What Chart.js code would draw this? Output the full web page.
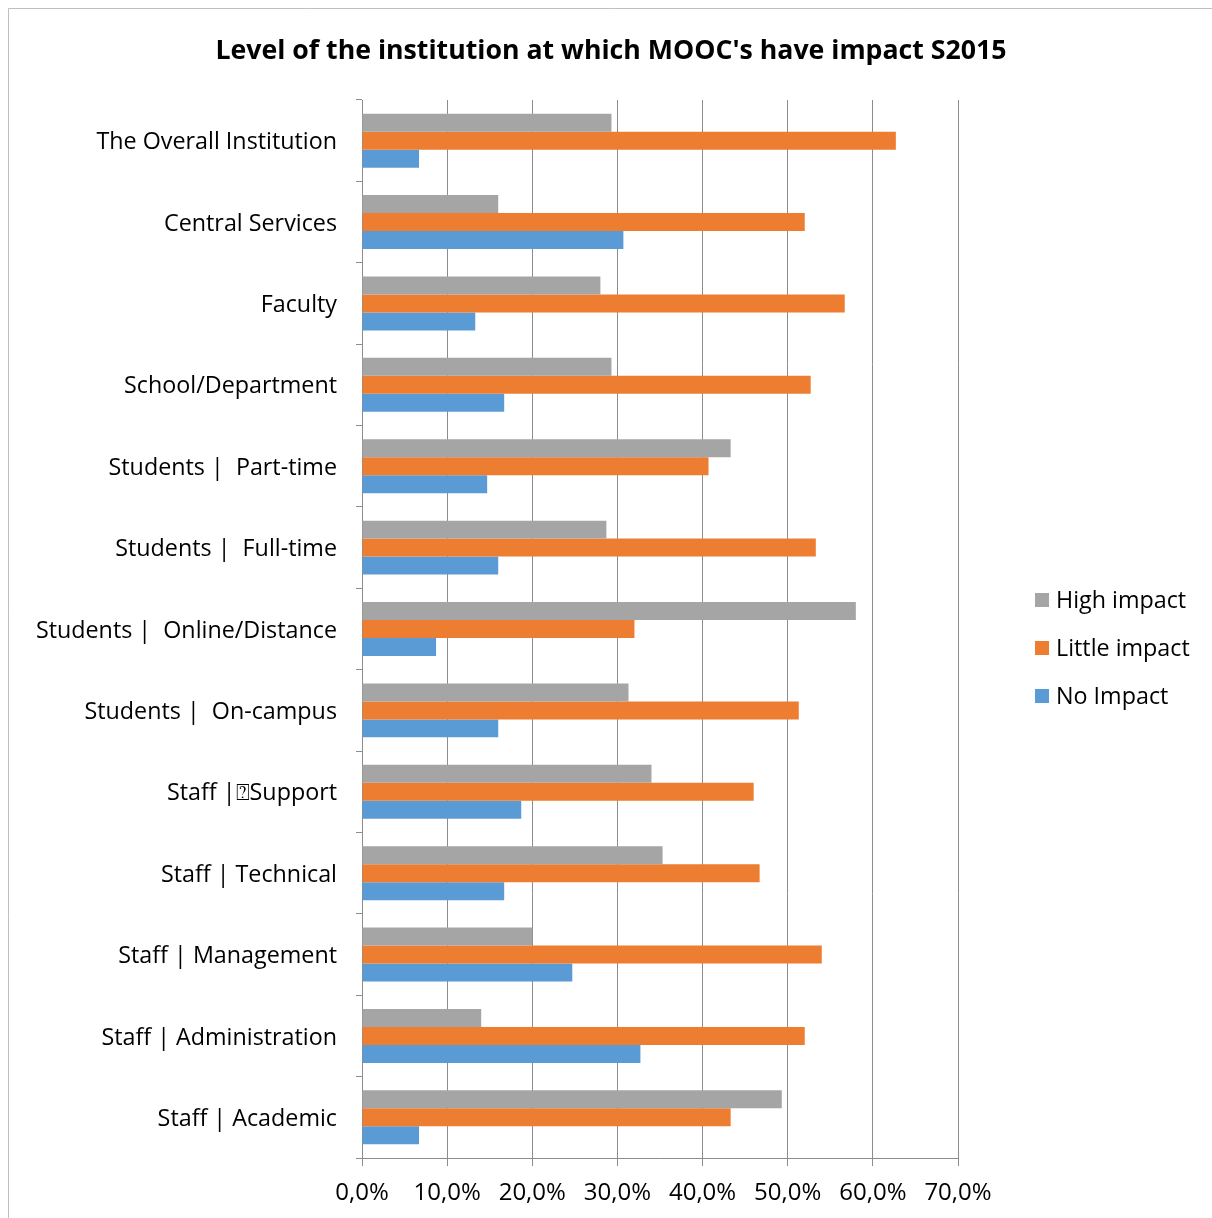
<!DOCTYPE html>
<html>
<head>
<meta charset="utf-8">
<script src="https://cdn.jsdelivr.net/npm/chart.js@4.4.1/dist/chart.umd.min.js"></script>
<style>
  html, body { margin: 0; padding: 0; background: #fff; }
  #wrap { width: 1212px; height: 1218px; position: relative; }
</style>
</head>
<body>
<div id="wrap"><canvas id="c" width="1212" height="1218"></canvas></div>
<script>
// Survey levels (top to bottom)
const categories = [
  'The Overall Institution',
  'Central Services',
  'Faculty',
  'School/Department',
  'Students |  Part-time',
  'Students |  Full-time',
  'Students |  Online/Distance',
  'Students |  On-campus',
  'Staff |\u2370Support',
  'Staff | Technical',
  'Staff | Management',
  'Staff | Administration',
  'Staff | Academic'
];

// Share of respondents, in percent
const highImpact   = [29.3, 16.0, 28.0, 29.3, 43.3, 28.7, 58.0, 31.3, 34.0, 35.3, 20.0, 14.0, 49.3];
const littleImpact = [62.7, 52.0, 56.7, 52.7, 40.7, 53.3, 32.0, 51.3, 46.0, 46.7, 54.0, 52.0, 43.3];
const noImpact     = [ 6.7, 30.7, 13.3, 16.7, 14.7, 16.0,  8.7, 16.0, 18.7, 16.7, 24.7, 32.7,  6.7];

const seriesNames = ['High impact', 'Little impact', 'No Impact'];
const seriesColors = ['#a5a5a5', '#ed7d31', '#5b9bd5'];

const chartTitle = "Level of the institution at which MOOC's have impact S2015";

const FONT = '"Open Sans", "Noto Sans", sans-serif';

// White background, thin frame and the centred title
const framePlugin = {
  id: 'frame',
  beforeDraw(chart) {
    const ctx = chart.ctx;
    ctx.save();
    ctx.fillStyle = '#ffffff';
    ctx.fillRect(0, 0, chart.width, chart.height);
    ctx.strokeStyle = '#bfbfbf';
    ctx.lineWidth = 1;
    ctx.beginPath();
    ctx.moveTo(8.5, chart.height);
    ctx.lineTo(8.5, 8.5);
    ctx.lineTo(chart.width, 8.5);
    ctx.stroke();
    ctx.font = 'bold 26.7px ' + FONT;
    ctx.fillStyle = '#000000';
    ctx.textAlign = 'center';
    ctx.textBaseline = 'alphabetic';
    ctx.fillText(chartTitle, 611, 59);
    ctx.restore();
  }
};

// Vertical legend to the right of the plot
const sideLegend = {
  id: 'sideLegend',
  afterDraw(chart) {
    const ctx = chart.ctx;
    const x = chart.chartArea.right + 77;
    const y0 = 600, step = 48, box = 14;
    ctx.save();
    ctx.font = '23.3px ' + FONT;
    ctx.textBaseline = 'middle';
    ctx.textAlign = 'left';
    chart.data.datasets.forEach((ds, i) => {
      const y = y0 + i * step;
      ctx.fillStyle = ds.backgroundColor;
      ctx.fillRect(x, y - box / 2, box, box);
      ctx.fillStyle = '#000000';
      ctx.fillText(ds.label, x + box + 7, y + 1);
    });
    ctx.restore();
  }
};

const values = [highImpact, littleImpact, noImpact];

new Chart(document.getElementById('c'), {
  type: 'bar',
  data: {
    labels: categories,
    datasets: values.map((v, i) => ({
      label: seriesNames[i],
      data: v,
      backgroundColor: seriesColors[i],
      borderWidth: 0,
      barPercentage: 1.0,
      categoryPercentage: 0.663
    }))
  },
  options: {
    indexAxis: 'y',
    responsive: false,
    animation: false,
    devicePixelRatio: 1,
    layout: { padding: { top: 100, right: 254, bottom: 0, left: 0 } },
    plugins: {
      legend: { display: false },
      tooltip: { enabled: false },
      title: { display: false }
    },
    scales: {
      x: {
        min: 0,
        max: 70,
        ticks: {
          stepSize: 10,
          color: '#000000',
          font: { family: FONT, size: 24 },
          padding: 13,
          maxRotation: 0,
          callback: v => v.toFixed(1).replace('.', ',') + '%'
        },
        grid: { color: '#8c8c8c', lineWidth: 1, tickLength: 8 },
        border: { color: '#8c8c8c' },
        afterFit(scale) { scale.height = 60; }
      },
      y: {
        offset: true,
        ticks: {
          color: '#000000',
          font: { family: FONT, size: 23.3 },
          padding: 19,
          labelOffset: 2,
          autoSkip: false
        },
        grid: { offset: true, drawOnChartArea: false, color: '#8c8c8c', tickLength: 6 },
        border: { color: '#8c8c8c' },
        afterFit(scale) { scale.width = 362; }
      }
    }
  },
  plugins: [framePlugin, sideLegend]
});
</script>
</body>
</html>
